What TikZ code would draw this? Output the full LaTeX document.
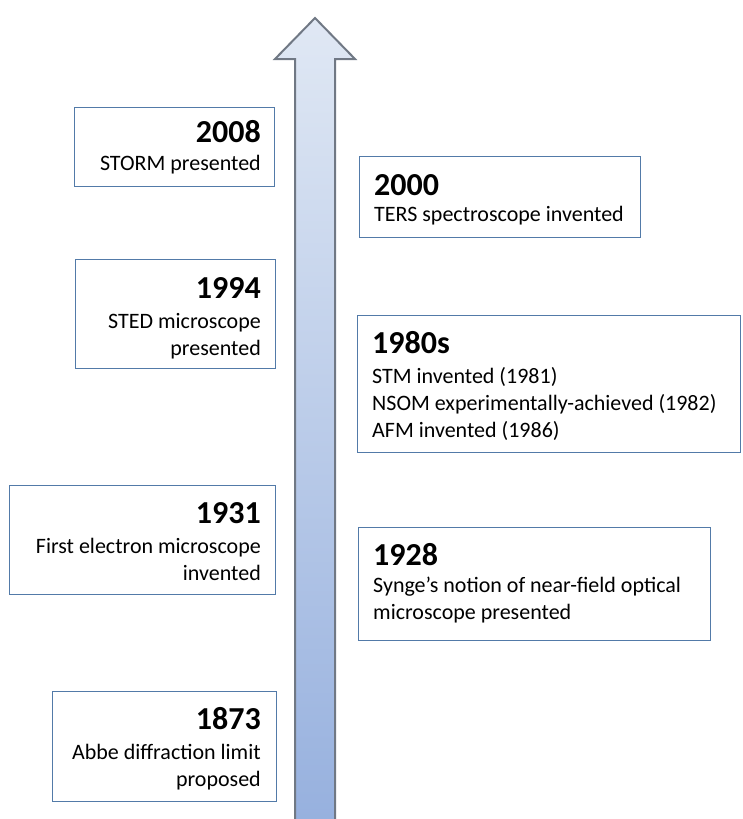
\documentclass[tikz,border=0pt]{standalone}
\usepackage{fontspec}
\setmainfont{Carlito}
\usetikzlibrary{positioning,calc}
\definecolor{eventblue}{RGB}{82,122,168}
\definecolor{arrowtop}{RGB}{224,232,244}
\definecolor{arrowbottom}{RGB}{150,176,222}
\definecolor{arrowgray}{RGB}{112,120,132}
\tikzset{
    event/.style={rectangle, draw=eventblue, line width=1.4pt, fill=white, inner sep=0pt, anchor=north west},
    yearL/.style={anchor=base east, inner sep=0pt, font=\fontsize{32}{38}\selectfont\bfseries},
    yearR/.style={yearL, anchor=base west},
    bodyL/.style={anchor=base east, inner sep=0pt, align=right, font=\fontsize{22}{26.7}\selectfont},
    bodyR/.style={bodyL, anchor=base west, align=left},
    timeline/.style={draw=arrowgray, line width=2pt, line join=miter, top color=arrowtop, bottom color=arrowbottom},
}
\begin{document}
\begin{tikzpicture}[x=1pt, y=-1pt]
    \useasboundingbox (0,0) rectangle (742,819);

    % Time arrow
    \coordinate (tip) at (315,18);
    \path[timeline] (295,830) -- (295,59) -- (275,59) -- (tip) -- (355,59) -- (335,59) -- (335,830);

    % Left events (body placed at the baseline of its last line)
    \foreach \yr/\xa/\ya/\xb/\yb/\tx/\ybase/\bbase/\body in {
        2008/74/107/274/186/261/142/170/{STORM presented},
        1994/75/259/275/368/261/298/355/{STED microscope\\presented},
        1931/9/485/275/594/261/523/580/{First electron microscope\\invented},
        1873/52/691/276/801/261/729/786/{Abbe diffraction limit\\proposed}} {
        \node[event, minimum width={(\xb-\xa)*1pt}, minimum height={(\yb-\ya)*1pt}] (ev\yr) at (\xa,\ya) {};
        \node[yearL] (yr\yr) at (\tx,\ybase) {\yr};
        \node[bodyL] (tx\yr) at (\tx,\bbase) {\body};
    }

    % Right events
    \foreach \yr/\xa/\ya/\xb/\yb/\tx/\ybase/\bbase/\body in {
        2000/359/156/640/237/374/195/221/{TERS spectroscope invented},
        1980s/357/315/740/452/372/353/437/{STM invented (1981)\\NSOM experimentally-achieved (1982)\\AFM invented (1986)},
        1928/358/527/710/640/373/565/619/{Synge’s notion of near-field optical\\microscope presented}} {
        \node[event, minimum width={(\xb-\xa)*1pt}, minimum height={(\yb-\ya)*1pt}] (ev\yr) at (\xa,\ya) {};
        \node[yearR] (yr\yr) at (\tx,\ybase) {\yr};
        \node[bodyR] (tx\yr) at (\tx,\bbase) {\body};
    }
\end{tikzpicture}
\end{document}
